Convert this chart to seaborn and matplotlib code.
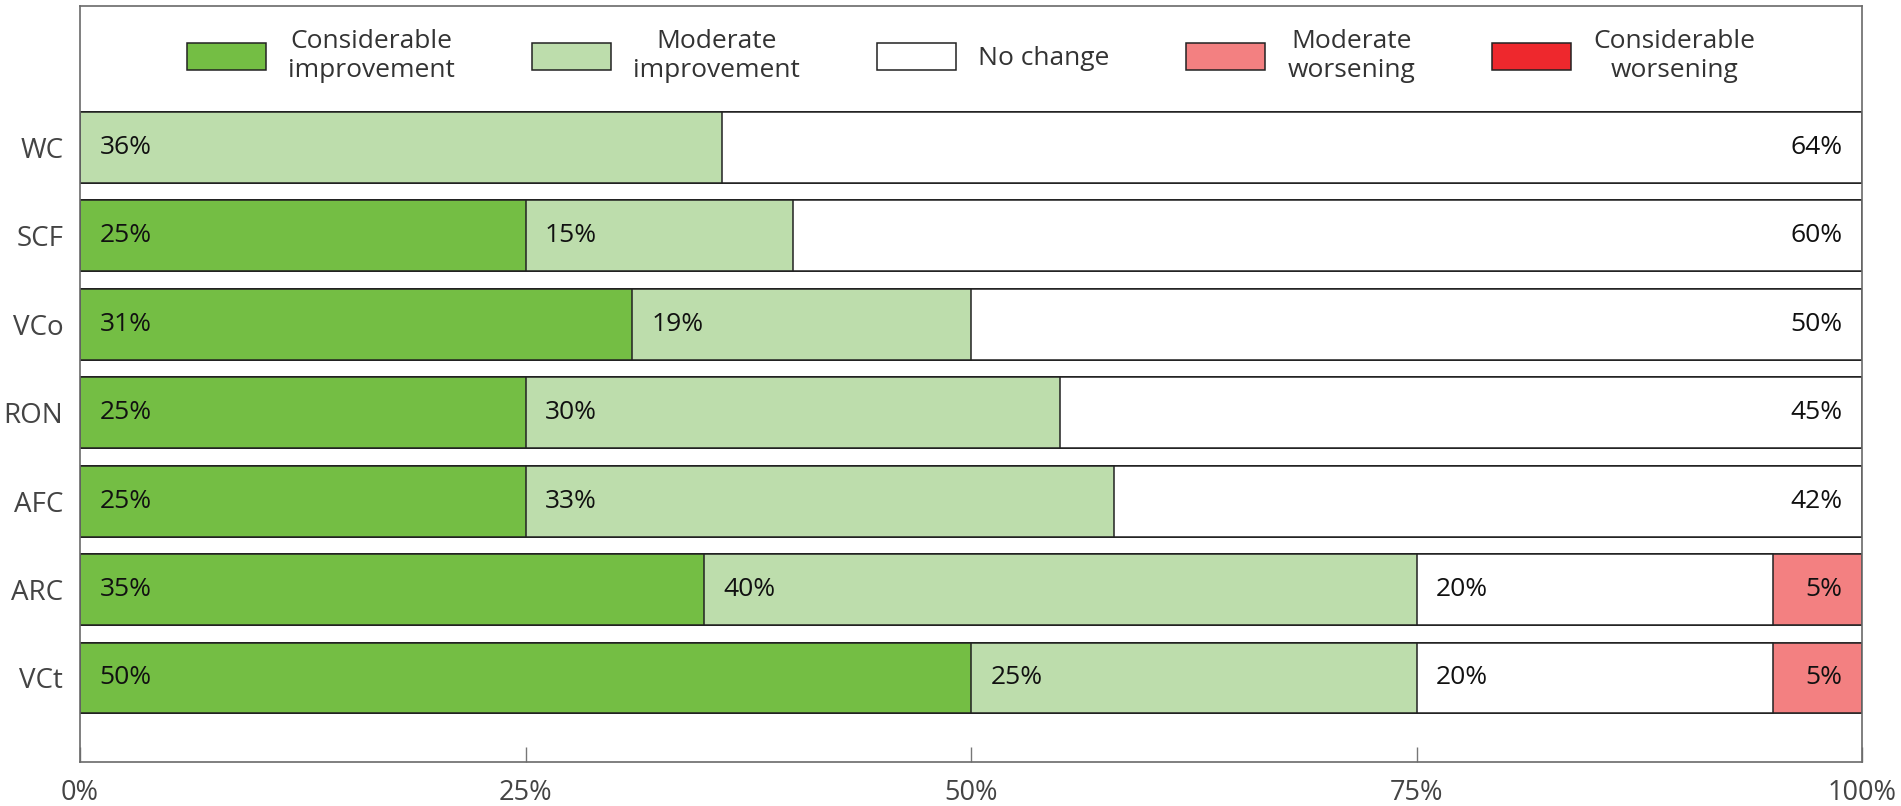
import numpy as np
import pandas as pd
import seaborn as sns
import matplotlib.pyplot as plt
from matplotlib.patches import Patch

# data
categories = ['WC', 'SCF', 'VCo', 'RON', 'AFC', 'ARC', 'VCt']
considerable_improvement = [0, 25, 31, 25, 25, 35, 50]
moderate_improvement = [36, 15, 19, 30, 33, 40, 25]
no_change = [64, 60, 50, 45, 42, 20, 20]
moderate_worsening = [0, 0, 0, 0, 0, 5, 5]
considerable_worsening = [0, 0, 0, 0, 0, 0, 0]

series_names = ['Considerable\nimprovement', 'Moderate\nimprovement', 'No change',
                'Moderate\nworsening', 'Considerable\nworsening']
series_values = [considerable_improvement, moderate_improvement, no_change,
                 moderate_worsening, considerable_worsening]
colors = ['#74BE44', '#BDDDAC', '#FFFFFF', '#F38081', '#EE282D']

sns.set_style('white')
plt.rcParams['font.family'] = ['Open Sans', 'DejaVu Sans']

df = pd.DataFrame({'category': categories})
for name, vals in zip(series_names, series_values):
    df[name] = vals
# cumulative right edges of each segment
cum = df[series_names].cumsum(axis=1)

fig = plt.figure(figsize=(19.01, 8.06), dpi=100)
ax = fig.add_axes([0.0421, 0.0546, 0.9374, 0.938])

# draw from the widest cumulative bar to the narrowest so each segment shows
for name, col in reversed(list(zip(series_names, colors))):
    sns.barplot(x=cum[name], y=df['category'], orient='h', color=col,
                saturation=1, edgecolor='#222222', linewidth=1.1,
                width=0.8, ax=ax)

# segment labels
for i, cat in enumerate(categories):
    vals = [v[i] for v in series_values]
    nonzero = [k for k, v in enumerate(vals) if v > 0]
    left = 0
    for k, v in enumerate(vals):
        if v > 0:
            if k == nonzero[-1]:
                ax.annotate(f'{v}%', xy=(left + v, i), xytext=(-14, 0),
                            textcoords='offset points', ha='right', va='center',
                            fontsize=19, color='#111111')
            else:
                ax.annotate(f'{v}%', xy=(left, i), xytext=(14, 0),
                            textcoords='offset points', ha='left', va='center',
                            fontsize=19, color='#111111')
        left += v

ax.set_xlim(0, 100)
ax.set_ylim(6.95, -1.6)
ax.set_xticks([0, 25, 50, 75, 100])
ax.set_xticklabels(['0%', '25%', '50%', '75%', '100%'])
ax.set_xlabel('')
ax.set_ylabel('')
ax.tick_params(axis='x', direction='in', length=11, width=1, color='#777777',
               labelsize=19.5, labelcolor='#444444', pad=12, bottom=True)
ax.tick_params(axis='y', length=0, labelsize=20, labelcolor='#444444', pad=12)
for s in ax.spines.values():
    s.set_color('#6a6a6a')
    s.set_linewidth(1.2)

handles = [Patch(facecolor=c, edgecolor='#222222', linewidth=1.1) for c in colors]
leg = ax.legend(handles, series_names, loc='center', bbox_to_anchor=(0.5, 0.934),
                ncol=5, frameon=False, fontsize=19, handlelength=3.0,
                handleheight=1.15, handletextpad=0.85, columnspacing=2.9,
                labelcolor='#333333')
for t in leg.get_texts():
    t.set_multialignment('center')

fig.savefig('out.png', dpi=100)
